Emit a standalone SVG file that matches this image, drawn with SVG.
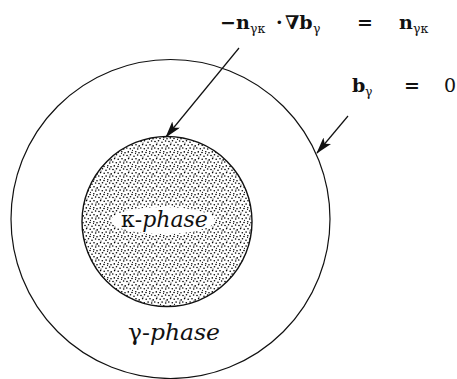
<svg xmlns="http://www.w3.org/2000/svg" width="457" height="379" viewBox="0 0 457 379">
<defs>
<style>
.ln{fill:none;stroke:#111;stroke-width:1.2}
text{font-family:"DejaVu Serif","Liberation Serif",serif;fill:#111}
.b{font-weight:bold;font-size:19px}
.s{font-size:12.5px;font-weight:normal}
.ph{font-size:22px}
</style>
<pattern id="dots" width="14" height="14" patternUnits="userSpaceOnUse">
<rect width="14" height="14" fill="#fff"/>
<g fill="#000">
<circle cx="1" cy="1.5" r="0.8"/><circle cx="4.5" cy="0.8" r="0.8"/><circle cx="8" cy="2.2" r="0.8"/><circle cx="11.6" cy="1" r="0.8"/>
<circle cx="2.6" cy="4.6" r="0.8"/><circle cx="6.2" cy="5.3" r="0.8"/><circle cx="10" cy="4.8" r="0.8"/><circle cx="13.2" cy="5.9" r="0.8"/>
<circle cx="0.8" cy="8" r="0.8"/><circle cx="4.3" cy="8.8" r="0.8"/><circle cx="8.1" cy="8.1" r="0.8"/><circle cx="11.7" cy="9" r="0.8"/>
<circle cx="2.3" cy="11.9" r="0.8"/><circle cx="6" cy="12.5" r="0.8"/><circle cx="9.8" cy="11.7" r="0.8"/><circle cx="13" cy="12.8" r="0.8"/>
<circle cx="3" cy="3" r="0.6"/><circle cx="9.5" cy="13.6" r="0.6"/><circle cx="12" cy="7" r="0.6"/><circle cx="6.5" cy="10.3" r="0.6"/>
</g>
</pattern>
<marker id="ah" markerWidth="17" markerHeight="10" refX="16" refY="5" orient="auto" markerUnits="userSpaceOnUse">
<path d="M0,0 L17,5 L0,10 L4,5 Z" fill="#111"/>
</marker>
</defs>
<g id="outer">
<circle cx="170.5" cy="219" r="159.5" class="ln"/>
</g>
<g id="inner">
<circle cx="167" cy="221.5" r="85" fill="url(#dots)" stroke="#111" stroke-width="1.4"/>
<ellipse cx="163" cy="220.5" rx="52" ry="13.5" fill="#fff"/>
<text class="ph" x="121" y="227"><tspan>κ-</tspan><tspan font-style="italic">phase</tspan></text>
</g>
<g id="gamma">
<text class="ph" x="128" y="340" textLength="92" lengthAdjust="spacingAndGlyphs"><tspan>γ-</tspan><tspan font-style="italic">phase</tspan></text>
</g>
<g id="connectors">
<line x1="239" y1="48" x2="166" y2="137" class="ln" marker-end="url(#ah)"/>
<line x1="348" y1="116" x2="317" y2="153" class="ln" marker-end="url(#ah)"/>
</g>
<g id="label1">
<text class="b" y="29"><tspan x="220">−</tspan><tspan x="236">n</tspan><tspan class="s" x="250" dy="4">γκ</tspan><tspan x="276" dy="-4">·</tspan><tspan x="285">∇b</tspan><tspan class="s" x="313" dy="4">γ</tspan></text>
<text class="b" x="357" y="29">=</text>
<text class="b" y="29"><tspan x="399">n</tspan><tspan class="s" x="413" dy="4">γκ</tspan></text>
</g>
<g id="label2">
<text class="b" y="92"><tspan x="352">b</tspan><tspan class="s" x="365" dy="4">γ</tspan></text>
<text class="b" x="404" y="92">=</text>
<text x="444" y="92" font-size="19">0</text>
</g>
</svg>
